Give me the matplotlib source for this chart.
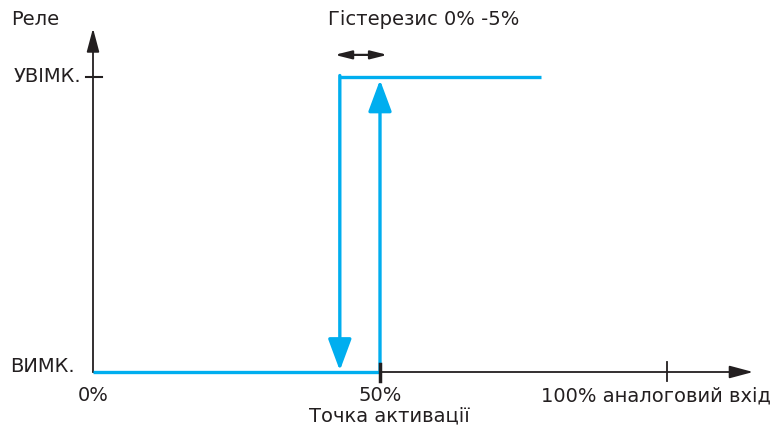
"""
Relay hysteresis diagram: relay state vs analog input
"""
import matplotlib
matplotlib.use("Agg")
import matplotlib.pyplot as plt

# data (percent of analog input, relay level 0 = off, 1 = on)
on_point = 50
off_point = 43
top_end = 78
x_ticks = [50, 100]
x_tick_labels = ["50%", "100% аналоговий вхід"]
y_levels = [0, 1]
y_labels = ["ВИМК.", "УВІМК."]

BLUE = "#00AEEF"
INK = "#231F20"

fig = plt.figure(figsize=(7.81, 4.28), dpi=100)
ax = fig.add_axes([0, 0, 1, 1])
# pixel layout: 0% at x=93px, 5.74 px per percent; off at y=372px, on at y=77px
ax.set_xlim(-93 / 5.74, (781 - 93) / 5.74)
ax.set_ylim(-(428 - 372) / 295, 372 / 295)
ax.axis("off")

# axes with arrow heads
arrow_kw = dict(arrowstyle="-|>,head_length=0.9,head_width=0.24", color=INK, lw=1.3,
                mutation_scale=16, shrinkA=0, shrinkB=0)
ax.annotate("", xy=(0, 1.165), xytext=(0, 0), arrowprops=arrow_kw)
ax.annotate("", xy=(115, 0), xytext=(0, 0), arrowprops=arrow_kw)

# ticks
ax.plot([-1.3, 1.5], [1, 1], color=INK, lw=1.5)
ax.plot([x_ticks[0]] * 2, [-0.03, 0.028], color=INK, lw=2.5, zorder=4)
ax.plot([x_ticks[1]] * 2, [-0.03, 0.035], color=INK, lw=1.3)

# relay characteristic
ax.plot([0, on_point], [0, 0], color=BLUE, lw=2.4, solid_capstyle="butt", zorder=3)
ax.plot([off_point, top_end], [1, 1], color=BLUE, lw=2.4, solid_capstyle="butt", zorder=3)
blue_kw = dict(arrowstyle="-|>,head_length=0.97,head_width=0.36", color=BLUE, lw=2.4,
               mutation_scale=20, shrinkA=0, shrinkB=0)
ax.annotate("", xy=(on_point, 0.99), xytext=(on_point, 0), arrowprops=blue_kw, zorder=3)
ax.annotate("", xy=(off_point, 0.005), xytext=(off_point, 1.005), arrowprops=blue_kw, zorder=3)

# hysteresis double arrow
ax.annotate("", xy=(off_point - 0.9, 1.075), xytext=(on_point + 1.3, 1.075),
            arrowprops=dict(arrowstyle="<|-|>,head_length=1.0,head_width=0.25", color=INK,
                            lw=1.6, mutation_scale=10, shrinkA=0, shrinkB=0))

fs = 14
ax.text(-14.2, 1.195, "Реле", fontsize=fs, color=INK, ha="left", va="center")
ax.text(-2.0, y_levels[1], y_labels[1], fontsize=fs, color=INK, ha="right", va="center")
ax.text(-3.2, y_levels[0] + 0.02, y_labels[0], fontsize=fs, color=INK, ha="right", va="center")
ax.text(0, -0.08, "0%", fontsize=fs, color=INK, ha="center", va="center")
ax.text(x_ticks[0], -0.08, x_tick_labels[0], fontsize=fs, color=INK, ha="center", va="center")
ax.text(78, -0.08, x_tick_labels[1], fontsize=fs, color=INK, ha="left", va="center")
ax.text(51.7, -0.148, "Точка активації", fontsize=fs, color=INK, ha="center", va="center")
ax.text(57.6, 1.195, "Гістерезис 0% -5%", fontsize=fs, color=INK, ha="center", va="center")

fig.savefig("out.png", dpi=100)
